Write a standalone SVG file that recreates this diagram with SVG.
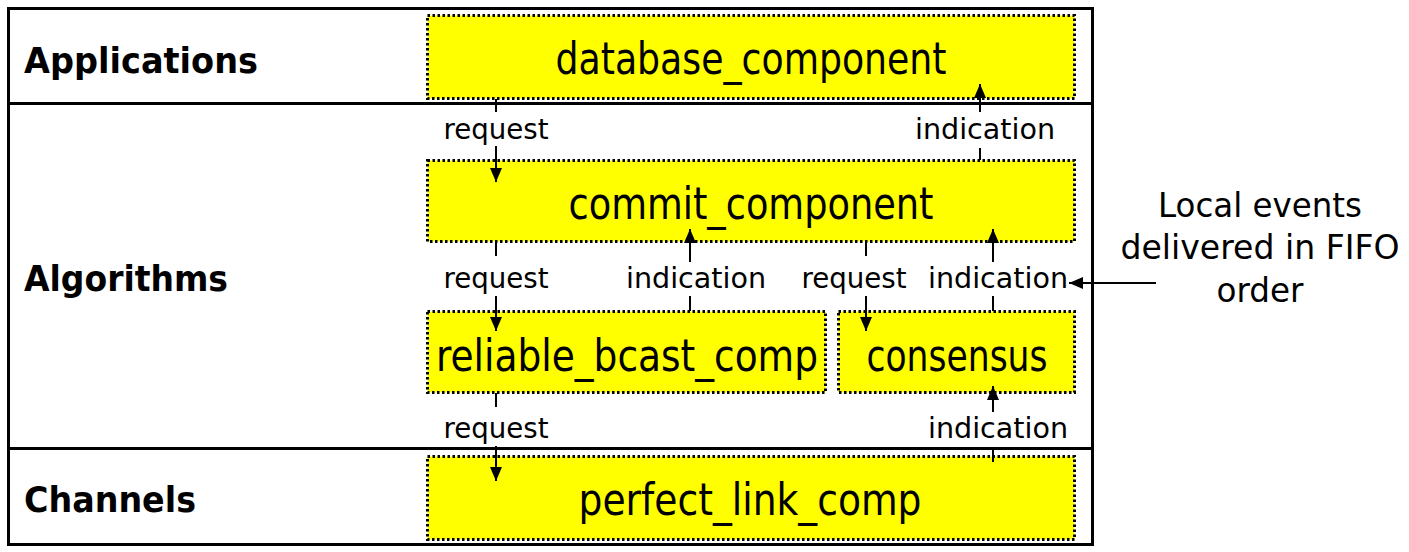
<svg xmlns="http://www.w3.org/2000/svg" width="1409" height="552" viewBox="0 0 1409 552">
<defs>
<marker id="ah" viewBox="0 0 14 12" refX="14" refY="6" markerWidth="14" markerHeight="12" markerUnits="userSpaceOnUse" orient="auto">
<path d="M0,0 L14,6 L0,12 z" fill="#000"/>
</marker>
<marker id="ahs" viewBox="0 0 14 12" refX="14" refY="6" markerWidth="14" markerHeight="12" markerUnits="userSpaceOnUse" orient="auto">
<path d="M0,0 L14,6 L0,12 z" fill="#000"/>
</marker>
</defs>
<style>
.frame{fill:none;stroke:#000;stroke-width:3}
.box{fill:#ffff00;stroke:#000;stroke-width:3;stroke-dasharray:2.5 2.5}
.node{font-family:"DejaVu Sans Condensed","DejaVu Sans",sans-serif;font-size:44px;fill:#000;text-anchor:middle}
.lbl{font-family:"DejaVu Sans Condensed","DejaVu Sans",sans-serif;font-size:28px;fill:#000;text-anchor:middle}
.layer{font-family:"DejaVu Sans","Open Sans",sans-serif;font-weight:bold;font-size:36px;fill:#000}
.side{font-family:"DejaVu Sans","Open Sans",sans-serif;font-size:33px;fill:#000;text-anchor:middle}
.c{fill:none;stroke:#000;stroke-width:2}
</style>
<rect x="0" y="0" width="1409" height="552" fill="#fff"/>
<g id="frame">
<rect class="frame" x="8.5" y="8.5" width="1084" height="536"/>
<line class="frame" x1="8" y1="103.5" x2="1093" y2="103.5"/>
<line class="frame" x1="8" y1="448.5" x2="1093" y2="448.5"/>
<text class="layer" x="24" y="73" textLength="234" lengthAdjust="spacingAndGlyphs">Applications</text>
<text class="layer" x="24" y="291" textLength="204" lengthAdjust="spacingAndGlyphs">Algorithms</text>
<text class="layer" x="24" y="512" textLength="172" lengthAdjust="spacingAndGlyphs">Channels</text>
</g>
<g id="database_component">
<rect class="box" x="427.5" y="15.5" width="647" height="83"/>
<text class="node" x="751" y="74" textLength="391" lengthAdjust="spacingAndGlyphs">database_component</text>
</g>
<g id="commit_component">
<rect class="box" x="427.5" y="160.5" width="647" height="81"/>
<text class="node" x="751" y="219" textLength="365" lengthAdjust="spacingAndGlyphs">commit_component</text>
</g>
<g id="reliable_bcast_comp">
<rect class="box" x="427.5" y="311.5" width="398" height="81"/>
<text class="node" x="627" y="371" textLength="382" lengthAdjust="spacingAndGlyphs">reliable_bcast_comp</text>
</g>
<g id="consensus">
<rect class="box" x="838.5" y="311.5" width="236" height="81"/>
<text class="node" x="957" y="371" textLength="181" lengthAdjust="spacingAndGlyphs">consensus</text>
</g>
<g id="perfect_link_comp">
<rect class="box" x="427.5" y="456.5" width="647" height="83"/>
<text class="node" x="750" y="515" textLength="343" lengthAdjust="spacingAndGlyphs">perfect_link_comp</text>
</g>
<g id="connectors">
<line class="c" x1="496" y1="99" x2="496" y2="112"/>
<text class="lbl" x="496" y="139" textLength="105" lengthAdjust="spacingAndGlyphs">request</text>
<line class="c" x1="496" y1="146" x2="496" y2="182" marker-end="url(#ah)"/>
<line class="c" x1="980" y1="160" x2="980" y2="148"/>
<text class="lbl" x="985" y="139" textLength="140" lengthAdjust="spacingAndGlyphs">indication</text>
<line class="c" x1="980" y1="112" x2="980" y2="84" marker-end="url(#ah)"/>
<line class="c" x1="496" y1="242" x2="496" y2="256"/>
<text class="lbl" x="496" y="288" textLength="105" lengthAdjust="spacingAndGlyphs">request</text>
<line class="c" x1="496" y1="296" x2="496" y2="331" marker-end="url(#ah)"/>
<line class="c" x1="690" y1="311" x2="690" y2="296"/>
<text class="lbl" x="696" y="288" textLength="140" lengthAdjust="spacingAndGlyphs">indication</text>
<line class="c" x1="690" y1="262" x2="690" y2="229" marker-end="url(#ah)"/>
<line class="c" x1="866" y1="242" x2="866" y2="256"/>
<text class="lbl" x="854" y="288" textLength="105" lengthAdjust="spacingAndGlyphs">request</text>
<line class="c" x1="866" y1="296" x2="866" y2="331" marker-end="url(#ah)"/>
<line class="c" x1="993" y1="311" x2="993" y2="296"/>
<text class="lbl" x="998" y="288" textLength="140" lengthAdjust="spacingAndGlyphs">indication</text>
<line class="c" x1="993" y1="262" x2="993" y2="229" marker-end="url(#ah)"/>
<line class="c" x1="496" y1="393" x2="496" y2="407"/>
<text class="lbl" x="496" y="438" textLength="105" lengthAdjust="spacingAndGlyphs">request</text>
<line class="c" x1="496" y1="446" x2="496" y2="481" marker-end="url(#ah)"/>
<line class="c" x1="993" y1="462" x2="993" y2="449"/>
<text class="lbl" x="998" y="438" textLength="140" lengthAdjust="spacingAndGlyphs">indication</text>
<line class="c" x1="993" y1="412" x2="993" y2="386" marker-end="url(#ah)"/>
<line class="c" x1="1156" y1="283" x2="1069" y2="283" marker-end="url(#ahs)"/>
</g>
<g id="note">
<text class="side" x="1260" y="217" textLength="204" lengthAdjust="spacingAndGlyphs">Local events</text>
<text class="side" x="1260" y="259" textLength="279" lengthAdjust="spacingAndGlyphs">delivered in FIFO</text>
<text class="side" x="1260" y="302" textLength="87" lengthAdjust="spacingAndGlyphs">order</text>
</g>
</svg>
